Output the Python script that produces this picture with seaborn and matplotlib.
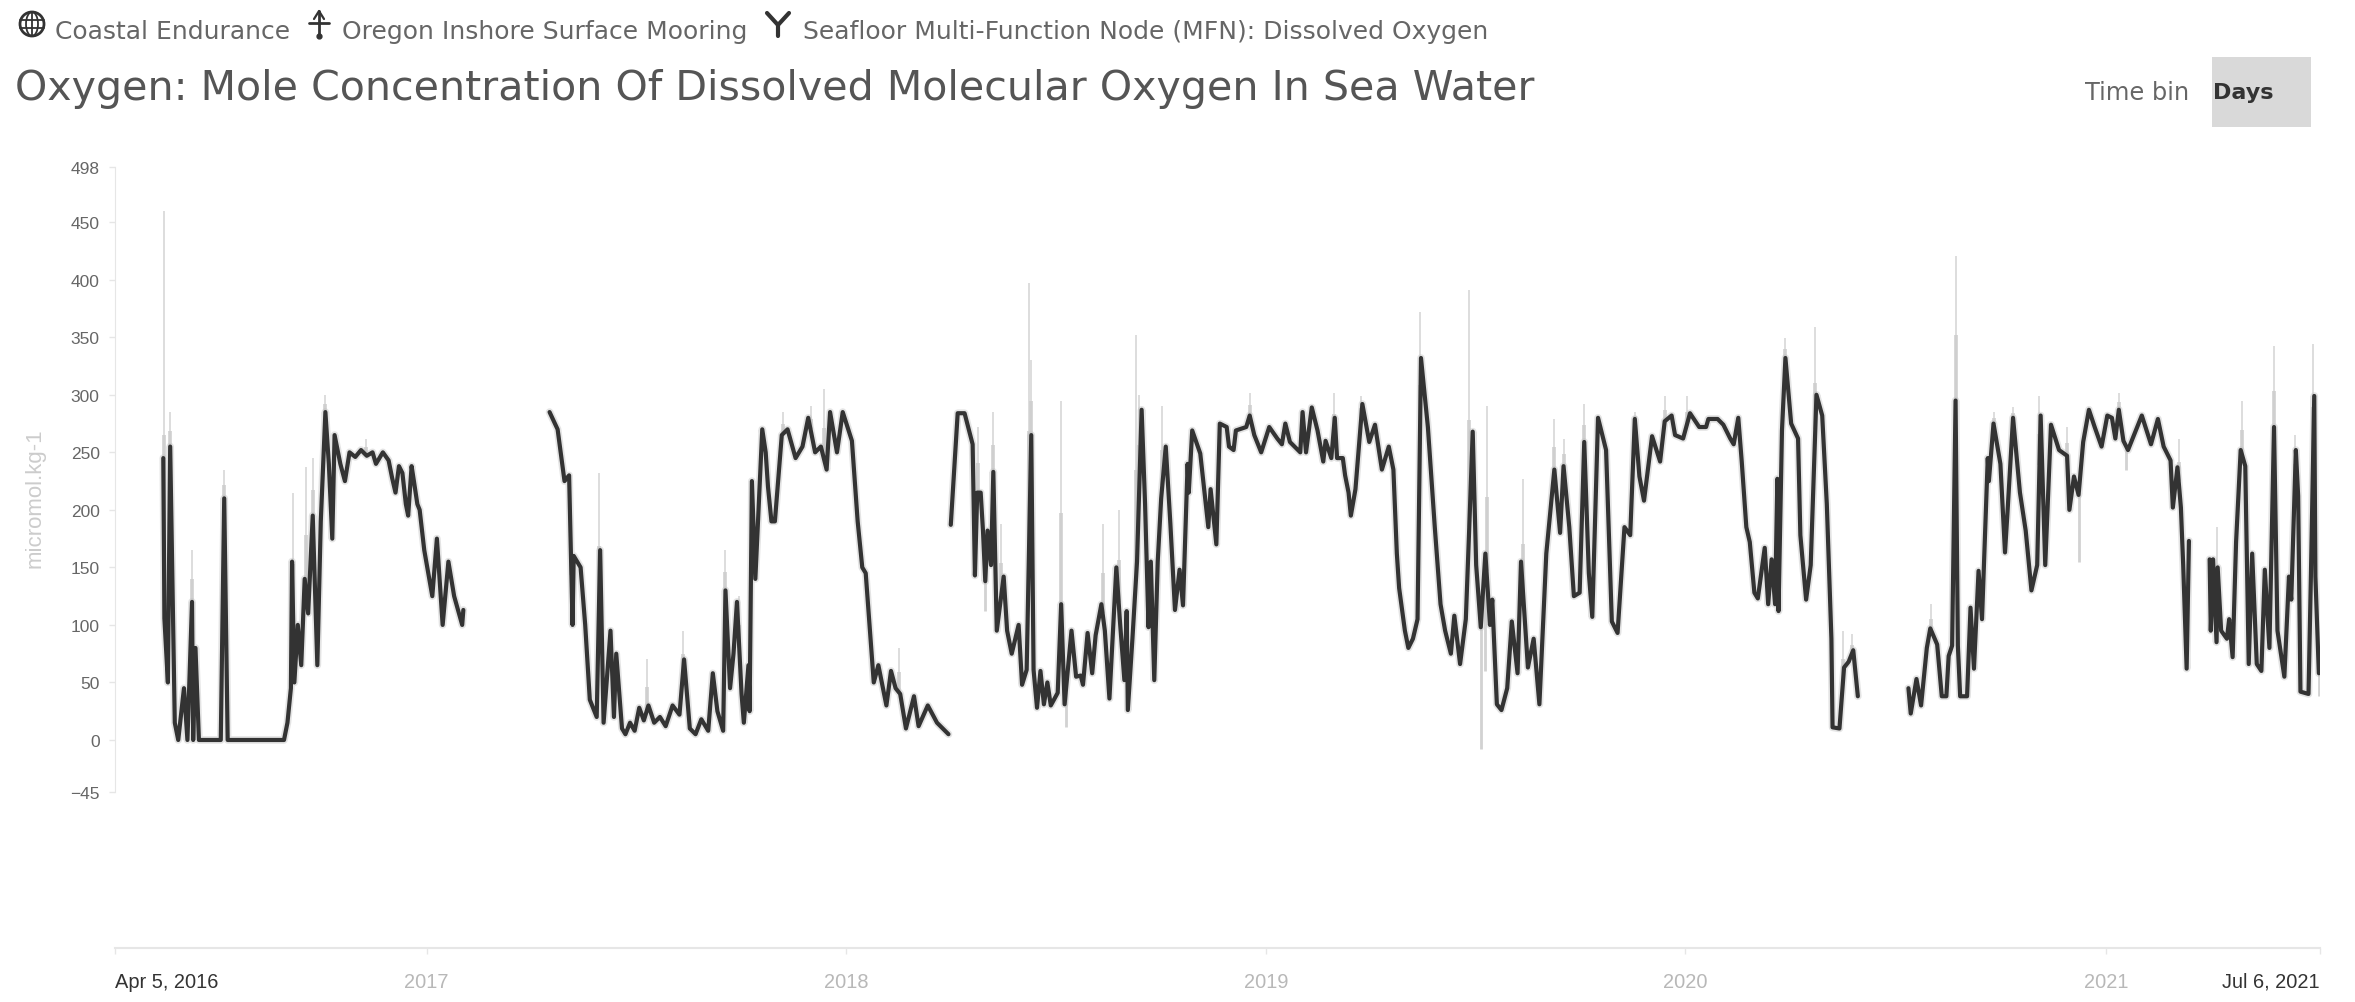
import numpy as np
import pandas as pd
import matplotlib.pyplot as plt
from matplotlib.patches import Circle, Ellipse, Rectangle
import seaborn as sns

start_date = pd.Timestamp('2016-04-05')
end_date = pd.Timestamp('2021-07-06')

# days since start_date and daily mean oxygen, one pair per deployment
days_a = [42, 43, 46, 48, 52, 55, 60, 63, 67, 68, 70, 73, 92, 95, 98, 147, 150, 153, 154, 156,
          159, 162, 165, 168, 172, 176, 179, 183, 186, 189, 191, 196, 200, 204, 209, 214, 219,
          224, 227, 233, 238, 241, 244, 247, 250, 253, 255, 258, 260, 263, 265, 269, 276, 280,
          285, 290, 295, 302, 303]
oxy_a = [245, 105, 50, 255, 15, 0, 45, 0, 120, 0, 80, 0, 0, 210, 0, 0, 15, 45, 155, 50,
         100, 65, 140, 110, 195, 65, 190, 285, 240, 175, 265, 240, 225, 250, 246, 252, 247,
         250, 240, 250, 243, 228, 215, 238, 232, 205, 195, 238, 225, 205, 200, 165, 125, 175,
         100, 155, 125, 100, 113]

days_b = [378, 385, 391, 395, 398, 399, 405, 409, 413, 419, 422, 425, 431, 434, 436, 441, 444,
          448, 452, 456, 460, 464, 469, 474, 479, 485, 491, 495, 500, 505, 510, 516, 520, 524,
          529, 531, 535, 538, 541, 545, 547, 551, 552, 554, 557, 563, 566, 568, 571, 574, 580,
          585, 592, 598, 603, 609, 614, 619, 622, 628, 633, 641, 646, 650, 653, 660, 664, 668,
          671, 675, 679, 683, 688, 695, 699, 707, 715, 725]
oxy_b = [285, 270, 225, 230, 100, 160, 150, 100, 35, 20, 165, 15, 95, 20, 75, 10, 5,
         15, 8, 28, 17, 30, 15, 20, 12, 30, 22, 70, 10, 5, 18, 8, 58, 25,
         8, 130, 45, 75, 120, 40, 15, 65, 25, 225, 140, 270, 250, 220, 190, 190, 265,
         270, 245, 255, 280, 250, 255, 235, 285, 250, 285, 260, 190, 150, 145, 50, 65, 45,
         30, 60, 45, 40, 10, 38, 12, 30, 15, 5]

days_c = [727, 731, 733, 739, 746, 748, 750, 753, 755, 757, 759, 762, 764, 767, 773, 776, 780,
          786, 789, 793, 797, 799, 802, 805, 808, 811, 814, 820, 823, 826, 832, 836, 840, 842,
          846, 850, 853, 858, 861, 865, 871, 874, 878, 880, 881, 885, 889, 893, 896, 899, 901,
          904, 907, 910, 914, 918, 922, 926, 929, 933, 934, 937, 944, 951, 953, 958, 961, 967,
          969, 973, 975, 984, 987, 991, 997, 1004, 1011, 1015, 1018, 1022, 1031, 1033, 1036,
          1041, 1046, 1051, 1053, 1058, 1061, 1063, 1068, 1070, 1073, 1075, 1079, 1085, 1091,
          1096, 1102, 1108, 1112, 1115, 1117, 1122, 1125, 1129, 1133, 1136, 1142, 1148, 1153,
          1157, 1162, 1165, 1170, 1175, 1178, 1181, 1184, 1188, 1192, 1196, 1198, 1202, 1206,
          1211, 1215, 1220, 1223, 1229, 1234, 1239, 1245, 1252, 1257, 1260, 1265, 1269, 1274,
          1278, 1282, 1285, 1290, 1297, 1302, 1307, 1313, 1318, 1322, 1326, 1330, 1337, 1344,
          1348, 1354, 1357, 1364, 1370, 1378, 1384, 1386, 1394, 1399, 1405, 1408, 1412, 1415,
          1419, 1422, 1426, 1429, 1435, 1438, 1441, 1444, 1446, 1447, 1450, 1453, 1458, 1464,
          1466, 1471, 1475, 1480, 1485, 1489, 1493, 1494, 1500, 1504, 1508, 1512, 1516]
oxy_c = [187, 252, 284, 284, 257, 143, 215, 215, 182, 138, 182, 152, 233, 95, 142, 95, 75,
         100, 48, 61, 265, 61, 28, 60, 31, 50, 30, 41, 118, 31, 95, 55, 56, 48,
         93, 58, 91, 118, 95, 36, 150, 105, 52, 112, 26, 88, 155, 287, 205, 98, 155,
         52, 155, 210, 255, 188, 113, 148, 117, 240, 215, 269, 249, 185, 218, 170, 275, 272,
         255, 252, 269, 272, 282, 265, 250, 272, 262, 257, 275, 259, 250, 285, 250,
         289, 269, 242, 260, 245, 280, 245, 245, 230, 215, 195, 218, 292, 259,
         274, 235, 255, 235, 162, 132, 95, 80, 88, 105, 332, 272, 185, 118,
         95, 75, 108, 66, 105, 185, 268, 152, 98, 162, 100, 122, 31, 26,
         45, 103, 58, 155, 63, 88, 31, 162, 235, 180, 238, 185, 125, 128,
         259, 145, 107, 280, 252, 103, 93, 185, 178, 279, 229, 208, 264, 242,
         277, 282, 265, 262, 284, 272, 272, 279, 279, 274, 262, 257, 280, 242,
         185, 172, 128, 123, 167, 118, 157, 118, 227, 112, 269, 332, 275, 262,
         178, 122, 152, 300, 282, 205, 88, 11, 10, 63, 68, 78, 38]

days_d = [1560, 1562, 1567, 1571, 1576, 1579, 1585, 1589, 1593, 1595, 1598, 1601, 1603, 1605,
          1611, 1614, 1617, 1621, 1624, 1629, 1630, 1634, 1640, 1644, 1646, 1651, 1657, 1662,
          1667, 1672, 1675, 1679, 1684, 1691, 1698, 1700, 1704, 1708, 1712, 1717, 1722, 1728,
          1733, 1737, 1740, 1743, 1747, 1751, 1757, 1763, 1771, 1777, 1782, 1788, 1790, 1794,
          1797, 1799, 1802, 1804]
oxy_d = [45, 23, 53, 30, 80, 97, 83, 38, 38, 73, 82, 295, 82, 38,
         38, 115, 62, 147, 105, 245, 225, 275, 240, 163, 195, 280, 215, 182,
         130, 152, 282, 152, 274, 252, 247, 200, 229, 213, 259, 287, 272, 255,
         282, 280, 262, 287, 260, 252, 267, 282, 257, 279, 255, 243, 202, 237,
         202, 152, 62, 173]

days_e = [1822, 1823, 1825, 1828, 1829, 1832, 1837, 1839, 1842, 1845, 1849, 1853, 1856, 1859,
          1863, 1867, 1870, 1874, 1878, 1881, 1887, 1891, 1893, 1897, 1899, 1901, 1908, 1910,
          1913, 1914, 1917]
oxy_e = [157, 95, 157, 85, 150, 95, 88, 105, 72, 172, 252, 238, 66, 162,
         66, 60, 148, 80, 272, 95, 55, 142, 122, 252, 212, 42, 40, 138,
         299, 142, 58]

# the pale min/max whiskers around the daily mean
spike_days = [43, 48, 67, 95, 155, 166, 172, 183, 218, 397, 421, 463, 494, 531, 543, 581, 605,
              617, 682, 751, 764, 771, 795, 797, 823, 859, 873, 888, 891, 911, 987, 1060, 1084,
              1135, 1178, 1193, 1225, 1252, 1260, 1278, 1322, 1348, 1367, 1453, 1479, 1503,
              1511, 1580, 1601, 1634, 1651, 1674, 1698, 1743, 1795, 1828, 1850, 1878, 1896,
              1912]
spike_high = [460, 285, 165, 235, 215, 237, 245, 300, 262, 183, 232, 70, 95, 165, 125, 285, 290,
              305, 80, 272, 285, 188, 397, 330, 295, 188, 200, 352, 300, 290, 302, 302, 299,
              372, 391, 290, 227, 279, 262, 292, 285, 299, 299, 349, 359, 95,
              92, 118, 421, 285, 289, 299, 272, 302, 262, 185, 295, 342, 265,
              344]
dip_days = [757, 827, 1188, 1192, 1708, 1749, 1917]
dip_low = [112, 11, -8, 60, 155, 235, 38]

y_ticks = [498, 450, 400, 350, 300, 250, 200, 150, 100, 50, 0, -45]
year_labels = ['2017', '2018', '2019', '2020', '2021']
header_items = ['Coastal Endurance', 'Oregon Inshore Surface Mooring',
                'Seafloor Multi-Function Node (MFN): Dissolved Oxygen']
title = 'Oxygen: Mole Concentration Of Dissolved Molecular Oxygen In Sea Water'

segments = [(days_a, oxy_a), (days_b, oxy_b), (days_c, oxy_c), (days_d, oxy_d), (days_e, oxy_e)]
df = pd.concat([
    pd.DataFrame({'date': start_date + pd.to_timedelta(d, unit='D'), 'oxygen': v, 'deployment': i})
    for i, (d, v) in enumerate(segments)
])

sns.set_style('white')
plt.rcParams['font.family'] = ['Liberation Sans', 'DejaVu Sans']

W, H = 2355, 1003
fig = plt.figure(figsize=(W / 100, H / 100), dpi=100)
ax = fig.add_axes([115 / W, 1 - 949 / H, (2320 - 115) / W, (949 - 168) / H])

# whiskers sit under the line and start from wherever the mean is that day
all_days = np.concatenate([d for d, _ in segments])
all_oxy = np.concatenate([v for _, v in segments])
to_date = lambda d: start_date + pd.to_timedelta(np.asarray(d), unit='D')
spike_base = np.interp(spike_days, all_days, all_oxy)
spike_top = np.asarray(spike_high)
ax.vlines(to_date(spike_days), spike_base, spike_top, color='#dadada', lw=1.3, zorder=1)
ax.vlines(to_date(spike_days), spike_base, spike_base + (spike_top - spike_base) * 0.45,
          color='#cfcfcf', lw=2.6, zorder=1)
ax.vlines(to_date(dip_days), dip_low, np.interp(dip_days, all_days, all_oxy),
          color='#d2d2d2', lw=2.0, zorder=1)

# soft halo, then the mean itself
sns.lineplot(data=df, x='date', y='oxygen', units='deployment', estimator=None,
             color='#bdbdbd', lw=5.5, alpha=0.4, ax=ax, zorder=2)
sns.lineplot(data=df, x='date', y='oxygen', units='deployment', estimator=None,
             color='#333333', lw=3.0, ax=ax, zorder=3)

ax.set_xlim(start_date, end_date)
ax.set_ylim(-180.8, 498)
ax.set_xlabel('')
ax.set_ylabel('micromol.kg-1', color='#cccccc', fontsize=16, labelpad=0)
ax.yaxis.set_label_coords(-69 / 2205, 1 - (498 - 168) / 781)

ax.set_yticks(y_ticks)
ax.tick_params(axis='y', left=True, length=4, width=1, color='#e6e6e6', labelcolor='#666666',
               labelsize=12.5, pad=7)

year_ticks = [pd.Timestamp(f'{y}-01-01') for y in year_labels]
ax.set_xticks([start_date] + year_ticks + [end_date])
ax.set_xticklabels(['Apr 5, 2016'] + year_labels + ['Jul 6, 2021'])
ax.tick_params(axis='x', bottom=True, length=4, width=1, color='#e6e6e6', labelcolor='#b8b8b8',
               labelsize=14.4, pad=13)
labels = ax.get_xticklabels()
labels[0].set_ha('left')
labels[0].set_color('#333333')
labels[-1].set_ha('right')
labels[-1].set_color('#333333')

sns.despine(ax=ax, top=True, right=True)
ax.spines['left'].set_bounds(-45, 498)
ax.spines['left'].set_color('#e6e6e6')
ax.spines['bottom'].set_color('#e6e6e6')
ax.spines['bottom'].set_linewidth(1.5)

# page furniture, in pixel coordinates of the figure
page = fig.add_axes([0, 0, 1, 1], zorder=5)
page.set_xlim(0, W)
page.set_ylim(H, 0)
page.axis('off')

head_color = '#666666'
for x, text in zip([55, 342, 803], header_items):
    page.text(x, 32, text, fontsize=18, color=head_color, family='DejaVu Sans', va='center')
page.text(15, 89, title, fontsize=29.6, color='#555555', family='DejaVu Sans', va='center')
page.text(2085, 93, 'Time bin', fontsize=17.4, color='#666666', family='DejaVu Sans', va='center')
page.add_patch(Rectangle((2212, 58), 99, 70, color='#d9d9d9', lw=0))
page.text(2213, 93, 'Days', fontsize=16, color='#333333', family='DejaVu Sans',
          weight='bold', va='center')

# globe icon
ic = '#333333'
page.add_patch(Circle((32, 25), 12, fill=False, ec=ic, lw=2))
page.add_patch(Ellipse((32, 25), 12, 24, fill=False, ec=ic, lw=1.3))
page.plot([20, 44], [21, 21], color=ic, lw=1.3)
page.plot([20, 44], [29, 29], color=ic, lw=1.3)
page.plot([32, 32], [13, 37], color=ic, lw=1.3)
# mooring icon
page.plot([319, 319], [12, 37], color=ic, lw=2)
page.plot([309, 329], [24, 24], color=ic, lw=2)
page.plot([314, 319, 324], [20, 12, 20], color=ic, lw=1.6)
page.plot([319], [37], 'o', color=ic, ms=3.5)
# node icon
page.plot([767, 778, 789], [14, 26, 14], color=ic, lw=3)
page.plot([778, 778], [26, 37], color=ic, lw=3)

fig.savefig('out.png', dpi=100)
